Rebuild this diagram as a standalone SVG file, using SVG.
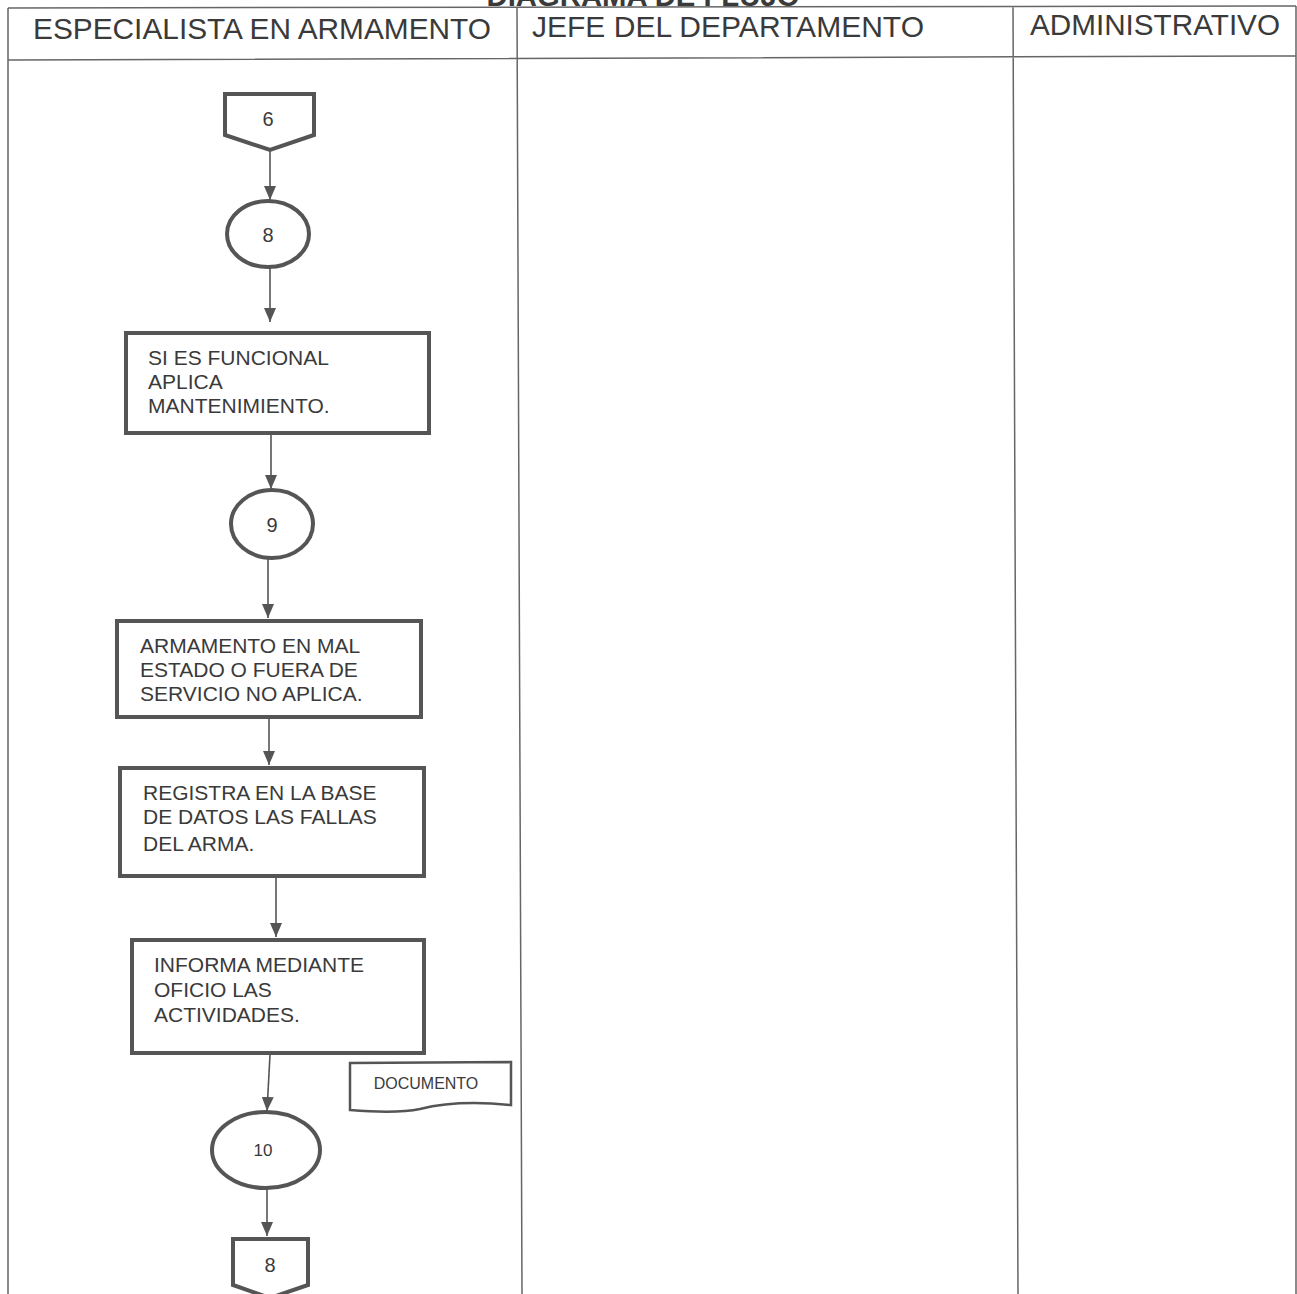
<svg xmlns="http://www.w3.org/2000/svg" width="1297" height="1294" viewBox="0 0 1297 1294">
<style>
.t{font-family:"Liberation Sans",Arial,sans-serif;fill:#3a3a3a}
.hd{font-size:29px}
.bx{font-size:21px}
.num{font-size:20px}
.box{fill:#fff;stroke:#555;stroke-width:4}
.grid{stroke:#666;stroke-width:1.5;fill:none}
.cn{stroke:#555;stroke-width:1.6;fill:none;marker-end:url(#ah)}
</style>
<defs>
<marker id="ah" viewBox="0 0 14 12" refX="14" refY="6" markerWidth="14" markerHeight="12" markerUnits="userSpaceOnUse" orient="auto">
<path d="M0,0 L14,6 L0,12 Z" fill="#555"/>
</marker>
</defs>
<rect width="1297" height="1294" fill="#fff"/>
<text class="t" x="643" y="6" font-size="29" font-weight="bold" text-anchor="middle" textLength="313" lengthAdjust="spacingAndGlyphs">DIAGRAMA DE FLUJO</text>
<g id="table">
<path class="grid" d="M8,8 L1296,6 M8,8 L8,1294 M8,60 L1296,56 M517,8 L522,1294 M1013,6 L1018,1294 M1296,6 L1296,1294"/>
<text class="t hd" x="33" y="39" textLength="458" lengthAdjust="spacingAndGlyphs">ESPECIALISTA EN ARMAMENTO</text>
<text class="t hd" x="532" y="37" textLength="392" lengthAdjust="spacingAndGlyphs">JEFE DEL DEPARTAMENTO</text>
<text class="t hd" x="1030" y="35" textLength="250" lengthAdjust="spacingAndGlyphs">ADMINISTRATIVO</text>
</g>
<g id="connectors">
<line class="cn" x1="270" y1="150" x2="270" y2="200"/>
<line class="cn" x1="270" y1="268" x2="270" y2="322"/>
<line class="cn" x1="271" y1="435" x2="271" y2="489"/>
<line class="cn" x1="268" y1="559" x2="268" y2="618"/>
<line class="cn" x1="269" y1="719" x2="269" y2="765"/>
<line class="cn" x1="276" y1="878" x2="276" y2="937"/>
<line class="cn" x1="270" y1="1055" x2="267" y2="1111"/>
<line class="cn" x1="267" y1="1189" x2="267" y2="1236"/>
</g>
<g id="n6">
<path class="box" d="M225,94 L314,94 L314,135 L270,150 L225,135 Z"/>
<text class="t num" x="268" y="126" text-anchor="middle">6</text>
</g>
<g id="c8">
<ellipse class="box" cx="268" cy="234" rx="41" ry="33"/>
<text class="t num" x="268" y="242" text-anchor="middle">8</text>
</g>
<g id="b1">
<rect class="box" x="126" y="333" width="303" height="100"/>
<text class="t bx" x="148" y="365">SI ES FUNCIONAL</text>
<text class="t bx" x="148" y="389">APLICA</text>
<text class="t bx" x="148" y="413">MANTENIMIENTO.</text>
</g>
<g id="c9">
<ellipse class="box" cx="272" cy="524" rx="41" ry="34"/>
<text class="t num" x="272" y="532" text-anchor="middle">9</text>
</g>
<g id="b2">
<rect class="box" x="117" y="621" width="304" height="96"/>
<text class="t bx" x="140" y="653">ARMAMENTO EN MAL</text>
<text class="t bx" x="140" y="677">ESTADO O FUERA DE</text>
<text class="t bx" x="140" y="701">SERVICIO NO APLICA.</text>
</g>
<g id="b3">
<rect class="box" x="120" y="768" width="304" height="108"/>
<text class="t bx" x="143" y="800">REGISTRA EN LA BASE</text>
<text class="t bx" x="143" y="824">DE DATOS LAS FALLAS</text>
<text class="t bx" x="143" y="851">DEL ARMA.</text>
</g>
<g id="b4">
<rect class="box" x="132" y="940" width="292" height="113"/>
<text class="t bx" x="154" y="972">INFORMA MEDIANTE</text>
<text class="t bx" x="154" y="997">OFICIO LAS</text>
<text class="t bx" x="154" y="1022">ACTIVIDADES.</text>
</g>
<g id="doc">
<path d="M350,1063 L511,1062 L511,1105 C470,1101 440,1104 420,1109 C400,1113 375,1112 350,1110 Z" fill="#fff" stroke="#555" stroke-width="2.5"/>
<text class="t" x="426" y="1089" font-size="16" text-anchor="middle">DOCUMENTO</text>
</g>
<g id="c10">
<ellipse class="box" cx="266" cy="1150" rx="54" ry="38"/>
<text class="t" x="263" y="1156" font-size="17" text-anchor="middle">10</text>
</g>
<g id="n8">
<path class="box" d="M233,1239 L308,1239 L308,1285 L270,1298 L233,1285 Z"/>
<text class="t num" x="270" y="1272" text-anchor="middle">8</text>
</g>
</svg>
